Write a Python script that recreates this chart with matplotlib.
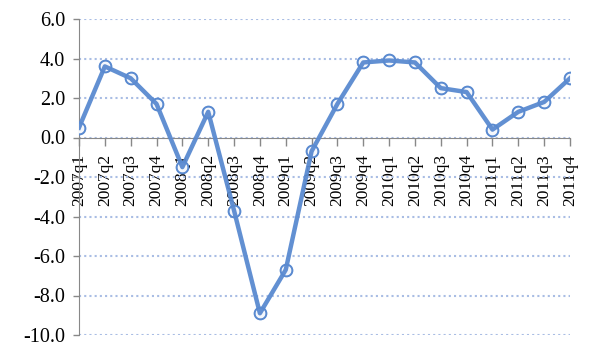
import matplotlib
matplotlib.use("Agg")
import matplotlib.pyplot as plt
import numpy as np

quarters = ["2007q1", "2007q2", "2007q3", "2007q4",
            "2008q1", "2008q2", "2008q3", "2008q4",
            "2009q1", "2009q2", "2009q3", "2009q4",
            "2010q1", "2010q2", "2010q3", "2010q4",
            "2011q1", "2011q2", "2011q3", "2011q4"]
values = [0.5, 3.6, 3.0, 1.7,
          -1.5, 1.3, -3.7, -8.9,
          -6.7, -0.7, 1.7, 3.8,
          3.9, 3.8, 2.5, 2.3,
          0.4, 1.3, 1.8, 3.0]
yticks = [-10, -8, -6, -4, -2, 0, 2, 4, 6]

plt.rcParams['font.family'] = ['Liberation Serif', 'DejaVu Serif']

W, H = 602, 356
fig = plt.figure(figsize=(W / 100, H / 100), dpi=100)
ax = fig.add_axes([79 / W, 1 - 335 / H, (570 - 79) / W, (335 - 19) / H])

for s in ['top', 'right']:
    ax.spines[s].set_visible(False)
ax.spines['bottom'].set_position(('data', 0))
ax.spines['bottom'].set_color('#888888')
ax.spines['left'].set_color('#888888')

x = np.arange(len(quarters))
blue = '#5A8AD0'
ax.plot(x, values, ls='none', marker='o', ms=8.5, mfc='#F4F7FC', mec=blue, mew=1.3, zorder=3)
ax.plot(x, values, color=blue, lw=3.2, zorder=4, solid_joinstyle='round', alpha=0.95)
ax.plot(x, values, ls='none', marker='o', ms=8.5, mfc='none', mec=blue, mew=1.1, zorder=5, alpha=0.8)

ax.set_xlim(0, len(quarters) - 1)
ax.set_ylim(-10, 6)
ax.set_yticks(yticks)
ax.set_yticklabels([f"{v:.1f}" for v in yticks], fontsize=14.5)
ax.yaxis.grid(True, color='#A9BDE4', ls=(0, (1, 1.5)), lw=1.5)
ax.set_axisbelow(True)

ax.set_xticks(x)
ax.set_xticklabels(quarters, rotation=90, fontsize=12.5, va='top', ha='center')
ax.tick_params(axis='x', length=6, width=1, color='#888888', pad=6)
ax.tick_params(axis='y', length=4, width=1, color='#888888', pad=6)
for lbl in ax.get_xticklabels():
    lbl.set_zorder(6)

fig.savefig("out.png", dpi=100)
